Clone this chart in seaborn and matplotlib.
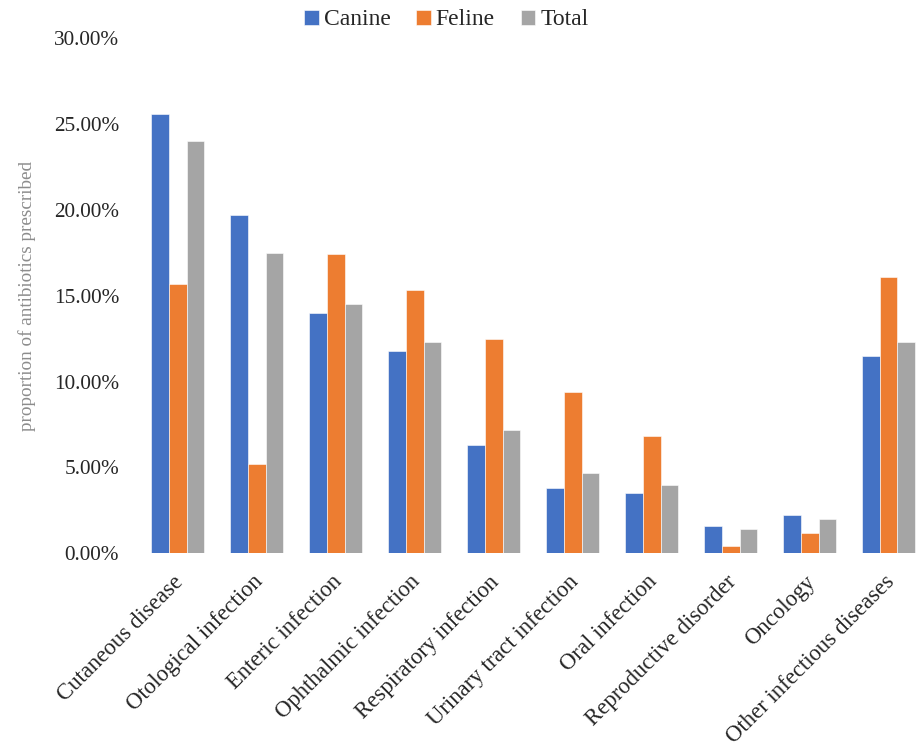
import matplotlib
matplotlib.use("Agg")
import matplotlib.pyplot as plt
import matplotlib.transforms as mtransforms
import seaborn as sns
import pandas as pd

categories = [
    "Cutaneous disease",
    "Otological infection",
    "Enteric infection",
    "Ophthalmic infection",
    "Respiratory infection",
    "Urinary tract infection",
    "Oral infection",
    "Reproductive disorder",
    "Oncology",
    "Other infectious diseases",
]
canine = [25.6, 19.7, 14.0, 11.8, 6.3, 3.8, 3.5, 1.6, 2.2, 11.5]
feline = [15.7, 5.2, 17.4, 15.3, 12.5, 9.4, 6.8, 0.4, 1.2, 16.1]
total = [24.0, 17.5, 14.5, 12.3, 7.2, 4.7, 4.0, 1.4, 2.0, 12.3]
series = ["Canine", "Feline", "Total"]
yticks = [0, 5, 10, 15, 20, 25, 30]

df = pd.DataFrame({
    "category": categories * 3,
    "species": [s for s in series for _ in categories],
    "value": canine + feline + total,
})

sns.set_theme(style="white")
plt.rcParams["font.family"] = ["Liberation Serif", "DejaVu Serif"]

fig = plt.figure(figsize=(9.23, 7.5), dpi=100)
ax = fig.add_axes([0.150, 0.2623, 0.853, 0.687])

palette = {"Canine": "#4472C4", "Feline": "#ED7D31", "Total": "#A5A5A5"}
sns.barplot(data=df, x="category", y="value", hue="species", order=categories,
            hue_order=series, palette=palette, width=0.67, gap=0,
            saturation=1, edgecolor="white", linewidth=0.4, ax=ax)

ax.set_ylim(0, 30)
ax.set_xlim(-0.5, 9.47)
ax.set_yticks(yticks)
ax.set_yticklabels([f"{v:.2f}%" for v in yticks], fontsize=15.3)
ax.tick_params(axis="y", length=0, pad=14)
ax.tick_params(axis="x", length=0, pad=13)
ax.set_xticks(range(len(categories)))
ax.set_xticklabels(categories, fontsize=16.4, rotation=45, ha="right",
                   va="top", rotation_mode="anchor")
shift = mtransforms.ScaledTranslation(-5 / 100, 0, fig.dpi_scale_trans)
for lbl in ax.get_xticklabels():
    lbl.set_transform(lbl.get_transform() + shift)
ax.set_xlabel("")
ax.set_ylabel("proportion of antibiotics prescribed", fontsize=13.8,
              color="#8C8C8C")
ax.yaxis.set_label_coords(-0.13, 0.5)
for s in ax.spines.values():
    s.set_visible(False)

handles, labels = ax.get_legend_handles_labels()
ax.legend(handles, labels, loc="center", bbox_to_anchor=(0.391, 1.035),
          ncol=3, frameon=False, fontsize=17, handlelength=0.62,
          handleheight=0.62, handletextpad=0.2, columnspacing=1.1,
          borderpad=0)

fig.savefig("out.png", dpi=100)
